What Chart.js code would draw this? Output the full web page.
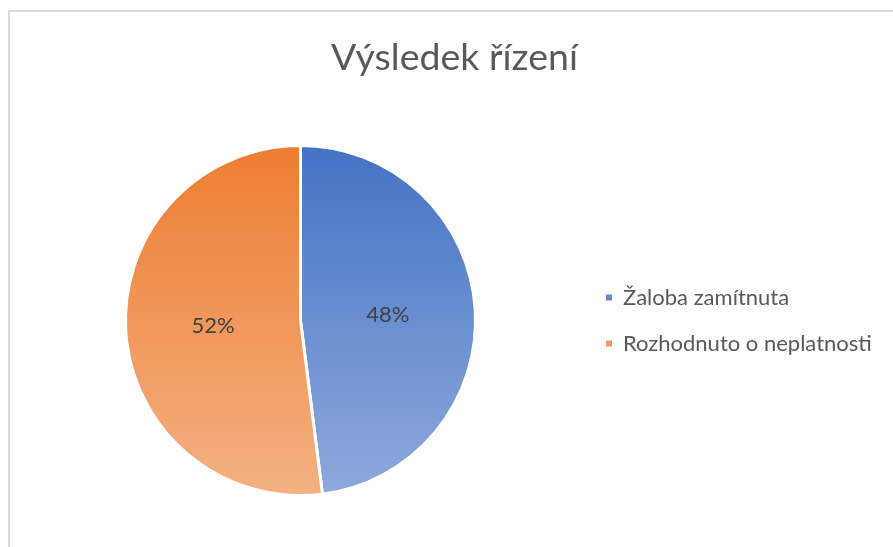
<!DOCTYPE html>
<html>
<head>
<meta charset="utf-8">
<script src="https://cdn.jsdelivr.net/npm/chart.js@4.4.0/dist/chart.umd.min.js"></script>
<style>
  html, body { margin: 0; padding: 0; background: #fff; }
  #frame { position: absolute; left: 8px; top: 10px; width: 1000px; height: 700px;
           border-left: 2px solid #d9d9d9; border-top: 2px solid #d9d9d9; }
  #myChart { position: absolute; left: 0; top: 0; }
</style>
</head>
<body>
<div id="frame"></div>
<canvas id="myChart" width="893" height="547"></canvas>
<script>
var title = 'Výsledek řízení';
var labels = ['Žaloba zamítnuta', 'Rozhodnuto o neplatnosti'];
var values = [48, 52];
var topColors = ['#4472c4', '#ed7d31'];
var bottomColors = ['#8faadc', '#f4b183'];

var FONT = 'Lato, "Open Sans", sans-serif';

function fill(ctx) {
  var i = ctx.dataIndex;
  var ca = ctx.chart.chartArea;
  if (!ca) return topColors[i];
  var g = ctx.chart.ctx.createLinearGradient(0, ca.top, 0, ca.bottom);
  g.addColorStop(0, topColors[i]);
  g.addColorStop(1, bottomColors[i]);
  return g;
}

// draw the percentage inside each slice
var sliceLabels = {
  id: 'sliceLabels',
  afterLayout: function (chart) {
    // title is centred on the whole frame, not on the plot + legend area
    if (chart.titleBlock) {
      chart.titleBlock.left += 9;
      chart.titleBlock.right += 9;
    }
  },
  afterDatasetsDraw: function (chart) {
    var c = chart.ctx;
    var meta = chart.getDatasetMeta(0);
    var total = values.reduce(function (a, b) { return a + b; }, 0);
    c.save();
    c.font = '22px ' + FONT;
    c.fillStyle = '#404040';
    c.textAlign = 'center';
    c.textBaseline = 'middle';
    meta.data.forEach(function (arc, i) {
      var p = arc.getProps(['x', 'y', 'startAngle', 'endAngle', 'outerRadius']);
      var mid = (p.startAngle + p.endAngle) / 2;
      var r = p.outerRadius * 0.5;
      c.fillText(Math.round(values[i] / total * 100) + '%', p.x + Math.cos(mid) * r, p.y + Math.sin(mid) * r);
    });
    c.restore();
  }
};

var ctx = document.getElementById('myChart').getContext('2d');
var myPieChart = new Chart(ctx, {
  type: 'pie',
  data: {
    labels: labels,
    datasets: [{
      data: values,
      backgroundColor: fill,
      borderColor: '#ffffff',
      borderWidth: 3,
      hoverOffset: 0
    }]
  },
  options: {
    responsive: false,
    animation: false,
    layout: { padding: { top: 0, bottom: 50, left: 19, right: 21 } },
    plugins: {
      title: {
        display: true,
        text: title,
        color: '#595959',
        font: { family: FONT, size: 37.5, weight: 'normal' },
        padding: { top: 35, bottom: 64 }
      },
      legend: {
        position: 'right',
        fullSize: false,
        maxWidth: 290,
        labels: {
          boxWidth: 6,
          boxHeight: 6,
          padding: 24,
          color: '#595959',
          font: { family: FONT, size: 22 },
          generateLabels: function (chart) {
            var items = Chart.overrides.doughnut.plugins.legend.labels.generateLabels(chart);
            items.forEach(function (it) { it.lineWidth = 0; });
            return items;
          }
        }
      },
      tooltip: { enabled: false }
    }
  },
  plugins: [sliceLabels]
});
</script>
</body>
</html>
